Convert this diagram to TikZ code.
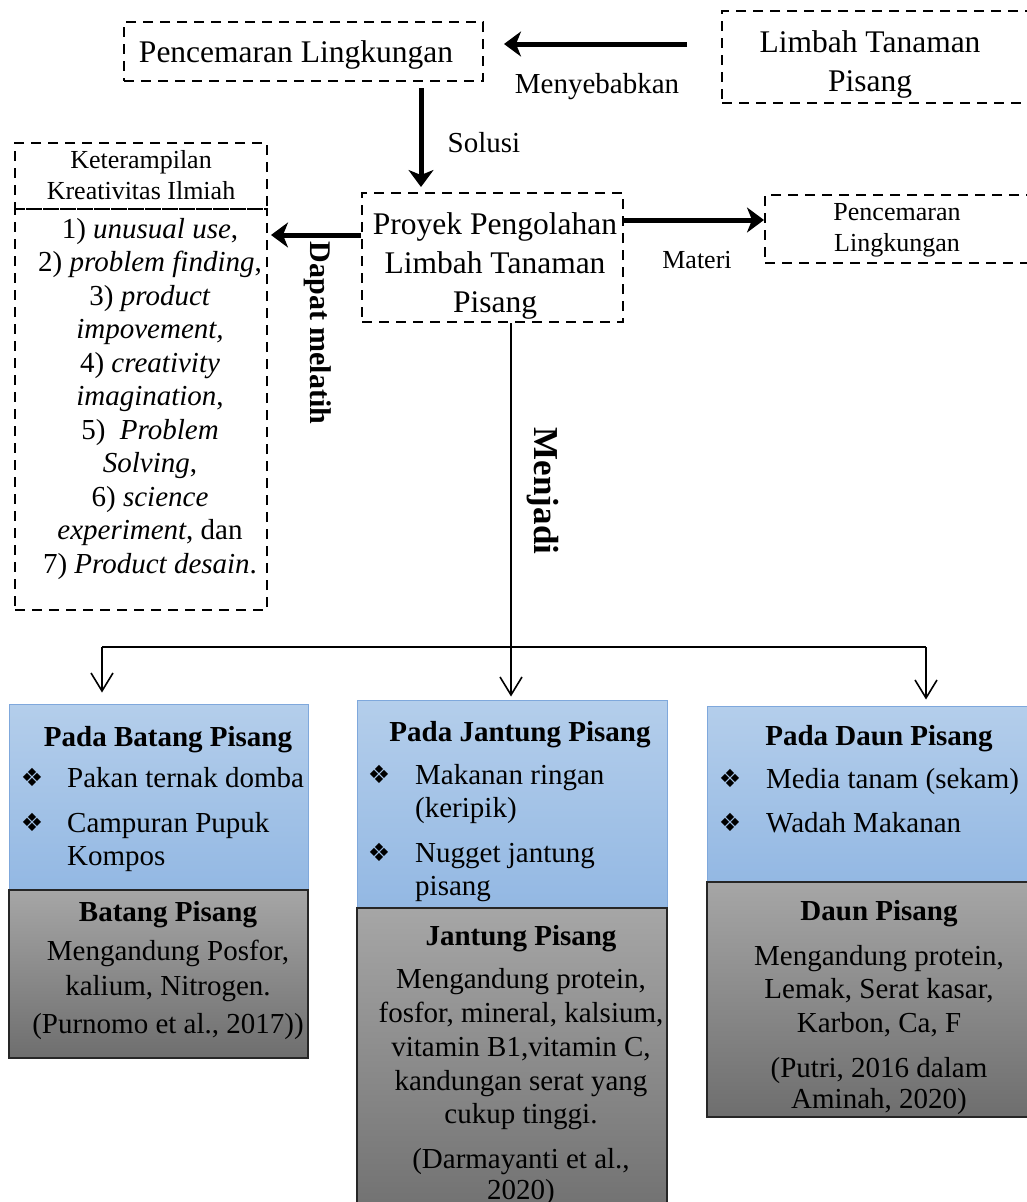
\documentclass[tikz,border=0pt]{standalone}
\usepackage{fontspec}
\setmainfont{Liberation Serif}
\newfontfamily\symfont{DejaVu Sans}
\usetikzlibrary{arrows.meta}
\definecolor{bluetop}{HTML}{B4CEEB}
\definecolor{bluebot}{HTML}{93B8E3}
\definecolor{blueedge}{HTML}{7FA8DC}
\definecolor{graytop}{HTML}{A6A6A6}
\definecolor{graybot}{HTML}{6E6E6E}
\tikzset{
  dbox/.style={draw, dash pattern=on 10pt off 7pt, line width=2pt, inner sep=0pt},
  fA/.style={font=\fontsize{31.5}{39}\selectfont},
  fB/.style={font=\fontsize{29}{33}\selectfont},
  fC/.style={font=\fontsize{26}{30}\selectfont},
  tl/.style={inner sep=0pt, anchor=base},
  tll/.style={inner sep=0pt, anchor=base west},
  bul/.style={inner sep=0pt, anchor=center, font=\symfont\fontsize{25}{25}\selectfont},
  bigarr/.style={line width=5pt, -{Stealth[length=17pt,width=25pt,inset=5pt]}},
  thinline/.style={line width=1.6pt},
  thinarr/.style={line width=1.6pt, -{Straight Barb[length=18pt,width=22pt,line width=1.6pt]}},
  bluebox/.style={draw=blueedge, line width=1pt, top color=bluetop, bottom color=bluebot, inner sep=0pt},
  graybox/.style={draw=black!85, line width=1.2pt, top color=graytop, bottom color=graybot, inner sep=0pt},
  rotlab/.style={inner sep=0pt, anchor=center, rotate=-90, font=\bfseries\fontsize{30}{30}\selectfont},
}
\begin{document}
\begin{tikzpicture}[x=1pt,y=-1pt]
\useasboundingbox (0,0) rectangle (1027,1202);
\begin{scope}
\clip (0,0) rectangle (1027,1202);

% ---------- boxes ----------
\node[dbox, minimum width=359pt, minimum height=59pt] (pl) at (303.5,51.5) {};
\node[dbox, minimum width=323pt, minimum height=92pt] (limbah) at (883.5,57) {};
\node[dbox, minimum width=261pt, minimum height=129pt] (proyek) at (492.5,257.5) {};
\node[dbox, minimum width=252pt, minimum height=66pt] (kh) at (141,176) {};
\node[dbox, minimum width=252pt, minimum height=401pt] (kl) at (141,409.5) {};
\node[dbox, minimum width=280pt, minimum height=68pt] (pk) at (905,229) {};

\node[bluebox, minimum width=299pt, minimum height=186pt] (bb) at (158.5,797) {};
\node[graybox, minimum width=299pt, minimum height=168pt] (bg) at (158.5,974) {};
\node[bluebox, minimum width=310pt, minimum height=208pt] (jb) at (512,804) {};
\node[graybox, minimum width=310pt, minimum height=322pt] (jg) at (512,1069) {};
\node[bluebox, minimum width=338pt, minimum height=176pt] (db) at (876,794) {};
\node[graybox, minimum width=338pt, minimum height=235pt] (dg) at (876,999.5) {};

% ---------- top texts ----------
\node[tl, fA] (plt) at (296,62) {Pencemaran Lingkungan};
\node[tl, fA] (lt1) at (870,52) {Limbah Tanaman};
\node[tl, fA] (lt2) at (870,91) {Pisang};
\node[tl, fA] (pt1) at (495,234) {Proyek Pengolahan};
\node[tl, fA] (pt2) at (495,273) {Limbah Tanaman};
\node[tl, fA] (pt3) at (495,312) {Pisang};
\node[tl, fC] (kt1) at (141,168) {Keterampilan};
\node[tl, fC] (kt2) at (141,199) {Kreativitas Ilmiah};
\node[tl, fC] (pkt1) at (897,220) {Pencemaran};
\node[tl, fC] (pkt2) at (897,251) {Lingkungan};

\foreach \t [count=\i] in {
  {1) \textit{unusual use},},
  {2) \textit{problem finding},},
  {3) \textit{product}},
  {\textit{impovement,}},
  {4) \textit{creativity}},
  {\textit{imagination},},
  {5)\ \ \textit{Problem}},
  {\textit{Solving},},
  {6) \textit{science}},
  {\textit{experiment}, dan},
  {7) \textit{Product desain}.}}
  \node[tl, fB] (li\i) at (150,{238+33.5*(\i-1)}) {\t};

% ---------- labels ----------
\node[tl, fB] (menyebabkan) at (597,93) {Menyebabkan};
\node[tl, fB] (solusi) at (484,152) {Solusi};
\node[tl, fC] (materi) at (697,268) {Materi};
\node[rotlab] (dapat) at (318,333) {Dapat melatih};
\node[rotlab, font=\bfseries\fontsize{35}{35}\selectfont] (menjadi) at (543,491) {Menjadi};

% ---------- connectors ----------
\draw[bigarr, shorten <=34pt, shorten >=20pt] ([yshift=13pt]limbah.west) -- ([yshift=7.5pt]pl.east);
\draw[bigarr, shorten <=6pt, shorten >=5pt] ([xshift=117.5pt]pl.south) -- ([xshift=117.5pt]pl.south |- proyek.north);
\draw[bigarr, shorten >=3pt] ([yshift=22.5pt]proyek.west) -- ([yshift=22.5pt]proyek.west -| kl.east);
\draw[bigarr] ([yshift=37.5pt]proyek.east) -- ([yshift=37.5pt]proyek.east -| pk.west);

\coordinate (hl) at (102,647);
\coordinate (hr) at (926,647);
\draw[thinline] (hl) -- (hr);
\draw[thinarr, shorten >=11pt] (hl) -- (hl |- bb.north);
\draw[thinarr, shorten >=6pt] (hr) -- (hr |- db.north);
\draw[thinarr, shorten >=3pt] ([xshift=18.5pt]proyek.south) -- ([xshift=18.5pt]proyek.south |- jb.north);

% ---------- Batang ----------
\node[tl, font=\bfseries\fontsize{29}{33}\selectfont] (bh) at (168,746) {Pada Batang Pisang};
\node[bul] (bb1) at (32,777) {❖};
\node[bul] (bb2) at (32,822) {❖};
\node[tll, fB] (bi1) at (67,787) {Pakan ternak domba};
\node[tll, fB] (bi2) at (67,832) {Campuran Pupuk};
\node[tll, fB] (bi3) at (67,865) {Kompos};
\node[tl, font=\bfseries\fontsize{29}{33}\selectfont] (bgh) at (168,921) {Batang Pisang};
\node[tl, fB] (bg1) at (168,960) {Mengandung Posfor,};
\node[tl, fB] (bg2) at (168,995) {kalium, Nitrogen.};
\node[tl, fB] (bg3) at (168,1033) {(Purnomo et al., 2017))};

% ---------- Jantung ----------
\node[tl, font=\bfseries\fontsize{29}{33}\selectfont] (jh) at (520,741) {Pada Jantung Pisang};
\node[bul] (jb1) at (379,774) {❖};
\node[bul] (jb2) at (379,852) {❖};
\node[tll, fB] (ji1) at (415,784) {Makanan ringan};
\node[tll, fB] (ji2) at (415,817) {(keripik)};
\node[tll, fB] (ji3) at (415,862) {Nugget jantung};
\node[tll, fB] (ji4) at (415,895) {pisang};
\node[tl, font=\bfseries\fontsize{29}{33}\selectfont] (jgh) at (521,945) {Jantung Pisang};
\node[tl, fB] (jg1) at (521,988) {Mengandung protein,};
\node[tl, fB] (jg2) at (521,1022) {fosfor, mineral, kalsium,};
\node[tl, fB] (jg3) at (521,1056) {vitamin B1,vitamin C,};
\node[tl, fB] (jg4) at (521,1090) {kandungan serat yang};
\node[tl, fB] (jg5) at (521,1123) {cukup tinggi.};
\node[tl, fB] (jg6) at (521,1168) {(Darmayanti et al.,};
\node[tl, fB] (jg7) at (521,1199) {2020)};

% ---------- Daun ----------
\node[tl, font=\bfseries\fontsize{29}{33}\selectfont] (dh) at (879,745) {Pada Daun Pisang};
\node[bul] (db1) at (730,778) {❖};
\node[bul] (db2) at (730,822) {❖};
\node[tll, fB] (di1) at (766,788) {Media tanam (sekam)};
\node[tll, fB] (di2) at (766,832) {Wadah Makanan};
\node[tl, font=\bfseries\fontsize{29}{33}\selectfont] (dgh) at (879,920) {Daun Pisang};
\node[tl, fB] (dg1) at (879,965) {Mengandung protein,};
\node[tl, fB] (dg2) at (879,998) {Lemak, Serat kasar,};
\node[tl, fB] (dg3) at (879,1032) {Karbon, Ca, F};
\node[tl, fB] (dg4) at (879,1077) {(Putri, 2016 dalam};
\node[tl, fB] (dg5) at (879,1108) {Aminah, 2020)};
\end{scope}
\end{tikzpicture}
\end{document}
